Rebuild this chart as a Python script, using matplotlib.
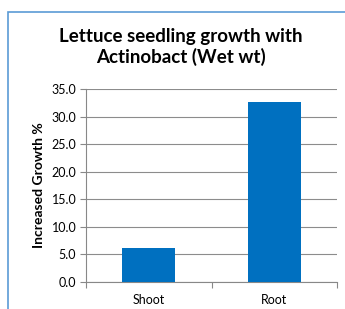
import matplotlib
matplotlib.use("Agg")
import matplotlib.pyplot as plt
from matplotlib.patches import Rectangle
from matplotlib.ticker import MultipleLocator, FixedLocator, FormatStrFormatter

categories = ["Shoot", "Root"]
values = [6.2, 32.7]
title = "Lettuce seedling growth with\nActinobact (Wet wt)"
ylabel = "Increased Growth %"

plt.rcParams['font.family'] = ['Lato', 'DejaVu Sans']

fig = plt.figure(figsize=(3.45, 3.09), dpi=100)
fig.patch.set_facecolor("white")

# outer chart frame (partially visible)
fig.add_artist(Rectangle((8/345, -0.1), 1.2, 1 - 12/309 + 0.1, transform=fig.transFigure,
                         fill=False, edgecolor="#5B9BD5", linewidth=1.2))

ax = fig.add_axes([86/345, 1 - 282/309, (337 - 86)/345, (282 - 89)/309])
x = range(len(categories))
ax.bar(x, values, width=0.42, color="#0070C0", zorder=3)
ax.set_xlim(-0.5, 1.5)
ax.set_ylim(0, 35)
ax.yaxis.set_major_locator(MultipleLocator(5))
ax.yaxis.set_major_formatter(FormatStrFormatter("%.1f"))
ax.set_xticks(list(x))
ax.set_xticklabels(categories, fontsize=9)
ax.xaxis.set_minor_locator(FixedLocator([-0.5, 0.5, 1.5]))
ax.tick_params(axis="x", which="major", length=0, pad=9)
ax.tick_params(axis="x", which="minor", length=4, color="#888888", width=0.8)
ax.tick_params(axis="y", length=4, color="#888888", width=0.8, labelsize=9, pad=3)
ax.grid(axis="y", color="#8c8c8c", linewidth=0.8, zorder=0)
for s in ["top", "right"]:
    ax.spines[s].set_visible(False)
for s in ["left", "bottom"]:
    ax.spines[s].set_color("#888888")
    ax.spines[s].set_linewidth(0.8)
ax.set_ylabel(ylabel, fontsize=10, fontweight="bold", labelpad=5)

fig.text(0.525, 1 - 47/309, title, ha="center", va="center", fontsize=13.5,
         fontweight="bold", linespacing=1.15)

fig.savefig("out.png", dpi=100, facecolor="white")
